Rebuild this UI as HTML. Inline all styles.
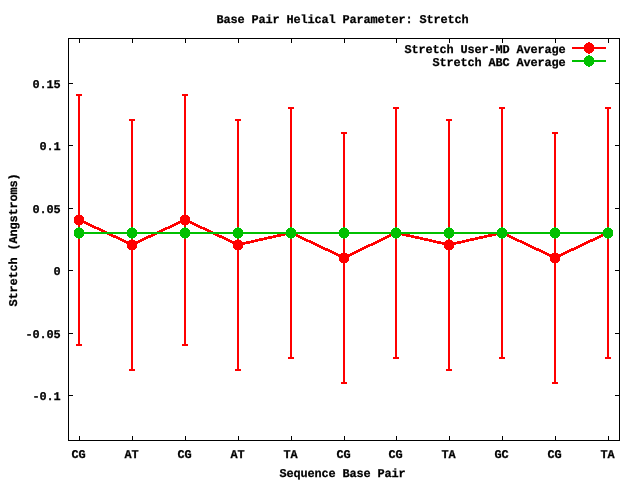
<!DOCTYPE html>
<html><head><meta charset="utf-8"><title>Base Pair Helical Parameter: Stretch</title>
<style>html,body{margin:0;padding:0;background:#fff}svg{display:block}text{font-family:"Liberation Mono",monospace;font-weight:bold;font-size:11.9px;letter-spacing:-0.141px;fill:#000;stroke:#000;stroke-width:0.25px;text-rendering:geometricPrecision}</style></head><body>
<svg width="640" height="480" viewBox="0 0 640 480">
<rect x="0" y="0" width="640" height="480" fill="#ffffff"/>
<defs><path id="m" shape-rendering="crispEdges" d="M-1-6H1V-5H3V-4H4V-3H5V3H4V4H3V5H1V6H-1V5H-3V4H-4V3H-5V-3H-4V-4H-3V-5H-1Z"/></defs>
<g shape-rendering="crispEdges" stroke="#000" stroke-width="1" fill="none">
<rect x="68.5" y="38.5" width="551" height="402"/>
<line x1="79.5" y1="441" x2="79.5" y2="436"/>
<line x1="79.5" y1="38" x2="79.5" y2="43"/>
<line x1="132.5" y1="441" x2="132.5" y2="436"/>
<line x1="132.5" y1="38" x2="132.5" y2="43"/>
<line x1="185.5" y1="441" x2="185.5" y2="436"/>
<line x1="185.5" y1="38" x2="185.5" y2="43"/>
<line x1="238.5" y1="441" x2="238.5" y2="436"/>
<line x1="238.5" y1="38" x2="238.5" y2="43"/>
<line x1="291.5" y1="441" x2="291.5" y2="436"/>
<line x1="291.5" y1="38" x2="291.5" y2="43"/>
<line x1="344.5" y1="441" x2="344.5" y2="436"/>
<line x1="344.5" y1="38" x2="344.5" y2="43"/>
<line x1="396.5" y1="441" x2="396.5" y2="436"/>
<line x1="396.5" y1="38" x2="396.5" y2="43"/>
<line x1="449.5" y1="441" x2="449.5" y2="436"/>
<line x1="449.5" y1="38" x2="449.5" y2="43"/>
<line x1="502.5" y1="441" x2="502.5" y2="436"/>
<line x1="502.5" y1="38" x2="502.5" y2="43"/>
<line x1="555.5" y1="441" x2="555.5" y2="436"/>
<line x1="555.5" y1="38" x2="555.5" y2="43"/>
<line x1="608.5" y1="441" x2="608.5" y2="436"/>
<line x1="608.5" y1="38" x2="608.5" y2="43"/>
<line x1="68" y1="83.5" x2="73" y2="83.5"/>
<line x1="620" y1="83.5" x2="615" y2="83.5"/>
<line x1="68" y1="145.5" x2="73" y2="145.5"/>
<line x1="620" y1="145.5" x2="615" y2="145.5"/>
<line x1="68" y1="208.5" x2="73" y2="208.5"/>
<line x1="620" y1="208.5" x2="615" y2="208.5"/>
<line x1="68" y1="270.5" x2="73" y2="270.5"/>
<line x1="620" y1="270.5" x2="615" y2="270.5"/>
<line x1="68" y1="333.5" x2="73" y2="333.5"/>
<line x1="620" y1="333.5" x2="615" y2="333.5"/>
<line x1="68" y1="395.5" x2="73" y2="395.5"/>
<line x1="620" y1="395.5" x2="615" y2="395.5"/>
</g>
<g shape-rendering="crispEdges" stroke="#ff0000" stroke-width="2" fill="none">
<polyline points="79,220 132,245 185,220 238,245 291,233 344,258 396,233 449,245 502,233 555,258 608,233" stroke-width="2.7" transform="translate(0 -0.25)"/>
<path d="M79 95V345M76 95H82M76 345H82"/>
<path d="M132 120V370M129 120H135M129 370H135"/>
<path d="M185 95V345M182 95H188M182 345H188"/>
<path d="M238 120V370M235 120H241M235 370H241"/>
<path d="M291 108V358M288 108H294M288 358H294"/>
<path d="M344 133V383M341 133H347M341 383H347"/>
<path d="M396 108V358M393 108H399M393 358H399"/>
<path d="M449 120V370M446 120H452M446 370H452"/>
<path d="M502 108V358M499 108H505M499 358H505"/>
<path d="M555 133V383M552 133H558M552 383H558"/>
<path d="M608 108V358M605 108H611M605 358H611"/>
</g>
<g fill="#ff0000">
<use href="#m" x="79" y="220"/>
<use href="#m" x="132" y="245"/>
<use href="#m" x="185" y="220"/>
<use href="#m" x="238" y="245"/>
<use href="#m" x="291" y="233"/>
<use href="#m" x="344" y="258"/>
<use href="#m" x="396" y="233"/>
<use href="#m" x="449" y="245"/>
<use href="#m" x="502" y="233"/>
<use href="#m" x="555" y="258"/>
<use href="#m" x="608" y="233"/>
</g>
<path d="M572 48H606" stroke="#ff0000" stroke-width="2" shape-rendering="crispEdges"/>
<use href="#m" x="589" y="48" fill="#ff0000"/>
<path d="M79 233H608" stroke="#00c000" stroke-width="2" shape-rendering="crispEdges"/>
<g fill="#00c000">
<use href="#m" x="79" y="233"/>
<use href="#m" x="132" y="233"/>
<use href="#m" x="185" y="233"/>
<use href="#m" x="238" y="233"/>
<use href="#m" x="291" y="233"/>
<use href="#m" x="344" y="233"/>
<use href="#m" x="396" y="233"/>
<use href="#m" x="449" y="233"/>
<use href="#m" x="502" y="233"/>
<use href="#m" x="555" y="233"/>
<use href="#m" x="608" y="233"/>
</g>
<path d="M572 61H606" stroke="#00c000" stroke-width="2" shape-rendering="crispEdges"/>
<use href="#m" x="589" y="61" fill="#00c000"/>
<g transform="translate(-0.4 0)">
<text x="217" y="23">Base Pair Helical Parameter: Stretch</text>
<text x="405" y="53">Stretch User-MD Average</text>
<text x="433" y="66">Stretch ABC Average</text>
<text x="33" y="88">0.15</text>
<text x="40" y="150">0.1</text>
<text x="33" y="213">0.05</text>
<text x="54" y="275">0</text>
<text x="26" y="338">-0.05</text>
<text x="33" y="400">-0.1</text>
<text x="72" y="458">CG</text>
<text x="125" y="458">AT</text>
<text x="178" y="458">CG</text>
<text x="231" y="458">AT</text>
<text x="284" y="458">TA</text>
<text x="337" y="458">CG</text>
<text x="389" y="458">CG</text>
<text x="442" y="458">TA</text>
<text x="495" y="458">GC</text>
<text x="548" y="458">CG</text>
<text x="601" y="458">TA</text>
<text x="280" y="477">Sequence Base Pair</text>
</g>
<text transform="translate(17 306.5) rotate(-90)">Stretch (Angstroms)</text>
</svg></body></html>
